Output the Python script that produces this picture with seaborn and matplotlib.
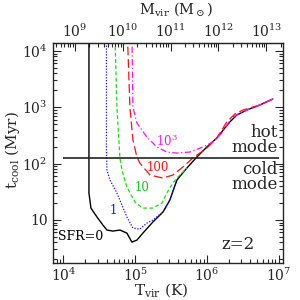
import numpy as np
import pandas as pd
import matplotlib
matplotlib.use("Agg")
import matplotlib.pyplot as plt
import seaborn as sns

# --- DATA (log10 values) ---
# cooling time vs virial temperature for several star formation rates (Msun/yr)
LOG_T_SFR0 = [4.355, 4.355, 4.383, 4.467, 4.550, 4.606, 4.689, 4.787, 4.884, 4.954,
              5.024, 5.107, 5.246, 5.386, 5.483, 5.581, 5.720, 5.859, 5.998, 6.137,
              6.249, 6.318, 6.416, 6.555, 6.737, 6.918]
LOG_TC_SFR0 = [4.30, 1.478, 1.211, 1.052, 0.909, 0.821, 0.803, 0.821, 0.767, 0.607,
               0.643, 0.767, 0.963, 1.140, 1.353, 1.709, 1.922, 2.117, 2.295, 2.455,
               2.632, 2.739, 2.863, 2.952, 3.041, 3.147]

LOG_T_SFR1 = [4.599, 4.599, 4.606, 4.648, 4.745, 4.884, 4.968, 5.065, 5.163, 5.246,
              5.386, 5.483, 5.581]
LOG_TC_SFR1 = [4.30, 2.242, 1.886, 1.709, 1.478, 1.052, 0.856, 0.838, 0.945, 0.998,
               1.140, 1.353, 1.709]

LOG_T_SFR10 = [4.717, 4.745, 4.787, 4.815, 4.884, 4.996, 5.107, 5.246, 5.372, 5.441,
               5.525, 5.595, 5.720]
LOG_TC_SFR10 = [4.30, 3.005, 2.099, 1.886, 1.584, 1.318, 1.211, 1.211, 1.300, 1.478,
                1.655, 1.762, 1.922]

LOG_T_SFR100 = [4.891, 4.926, 4.968, 5.024, 5.065, 5.205, 5.386, 5.525, 5.664, 5.803,
                5.998, 6.137, 6.276, 6.388, 6.500, 6.737, 6.918]
LOG_TC_SFR100 = [4.30, 3.005, 2.419, 2.117, 2.011, 1.798, 1.744, 1.798, 1.940, 2.099,
                 2.277, 2.455, 2.739, 2.881, 2.952, 3.041, 3.147]

LOG_T_SFR1000 = [4.954, 4.968, 5.024, 5.163, 5.302, 5.441, 5.581, 5.762, 5.943, 6.082,
                 6.207, 6.277, 6.360, 6.486, 6.597, 6.737, 6.918]
LOG_TC_SFR1000 = [4.30, 3.005, 2.721, 2.472, 2.295, 2.206, 2.188, 2.206, 2.295, 2.384,
                  2.543, 2.686, 2.828, 2.917, 2.970, 3.041, 3.147]

# hot / cold mode divide
DIVIDE_T = [1e4, 1e7]
DIVIDE_TCOOL = 125

# top axis: M_vir = 1e9 * (T / T9)^1.5 at z=2
LOG_T_AT_M9 = 4.16
M_TICKS = [1e9, 1e10, 1e11, 1e12, 1e13]

Y_TICKS = [10, 100, 1000, 10000]
Y_TICK_LABELS = ["10", "$10^2$", "$10^3$", "$10^4$"]

SERIES = [
    ("SFR=0", LOG_T_SFR0, LOG_TC_SFR0, "black", "-", 1.0),
    ("1", LOG_T_SFR1, LOG_TC_SFR1, "#1010ff", (0, (1, 1.3)), 0.9),
    ("10", LOG_T_SFR10, LOG_TC_SFR10, "#10e010", (0, (3, 2)), 0.9),
    ("100", LOG_T_SFR100, LOG_TC_SFR100, "#ff1010", (0, (7, 3)), 0.9),
    ("1000", LOG_T_SFR1000, LOG_TC_SFR1000, "#ff10ff", (0, (5, 2, 1, 2)), 0.9),
]


def t_to_m(t):
    t = np.asarray(t, dtype=float)
    return 1e9 * (np.clip(t, 1e-10, None) / 10**LOG_T_AT_M9) ** 1.5


def m_to_t(m):
    m = np.asarray(m, dtype=float)
    return 10**LOG_T_AT_M9 * (np.clip(m, 1e-10, None) / 1e9) ** (2.0 / 3.0)


def main():
    sns.set_style("ticks")
    plt.rcParams["font.family"] = ["DejaVu Serif"]
    plt.rcParams["mathtext.fontset"] = "dejavuserif"

    fig = plt.figure(figsize=(3, 3), dpi=100)
    ax = fig.add_axes([53 / 300, 37 / 300, 230 / 300, 220 / 300])

    for name, lt, ltc, color, ls, lw in SERIES:
        df = pd.DataFrame({"T": np.power(10.0, lt), "tcool": np.power(10.0, ltc)})
        sns.lineplot(data=df, x="T", y="tcool", ax=ax, color=color, linestyle=ls,
                     linewidth=lw, sort=False, estimator=None)

    ax.hlines(DIVIDE_TCOOL, DIVIDE_T[0], DIVIDE_T[1], color="#222222", linewidth=1.2)

    ax.set_xscale("log")
    ax.set_yscale("log")
    ax.set_xlim(10**3.854, 10**7.06)
    ax.set_ylim(10**0.236, 10**4.142)
    ax.set_yticks(Y_TICKS)
    ax.set_yticklabels(Y_TICK_LABELS)

    ax.tick_params(which="both", direction="in", top=False, right=True, labelsize=10,
                   width=0.8)
    ax.tick_params(which="major", length=6)
    ax.tick_params(which="minor", length=3)
    ax.tick_params(axis="x", pad=3)
    ax.tick_params(axis="y", pad=4)
    for sp in ax.spines.values():
        sp.set_linewidth(1.0)

    secax = ax.secondary_xaxis("top", functions=(t_to_m, m_to_t))
    secax.set_xticks(M_TICKS)
    secax.tick_params(which="both", direction="in", labelsize=10, width=0.8, pad=2.5)
    secax.tick_params(which="major", length=6)
    secax.tick_params(which="minor", length=3)

    ax.set_xlabel(r"T$_{\rm vir}$ (K)", fontsize=11, va="center")
    ax.xaxis.set_label_coords(0.47, -0.125)
    ax.set_ylabel(r"t$_{\rm cool}$ (Myr)", fontsize=11, va="center")
    ax.yaxis.set_label_coords(-0.178, 0.514)
    ax.text(0.535, 1.155, r"M$_{\rm vir}$ (M$_\odot$)", fontsize=10.5, ha="center",
            va="center", transform=ax.transAxes)

    # curve labels
    ax.text(10**4.69, 15, "1", color="#1010ff", fontsize=8.5, ha="center", va="center")
    ax.text(10**5.093, 38, "10", color="#10c010", fontsize=8.5, ha="center", va="center")
    ax.text(10**5.316, 84, "100", color="#ff1010", fontsize=8.5, ha="center", va="center")
    ax.text(10**5.441, 251, "$10^3$", color="#ff10ff", fontsize=8.5, ha="center", va="center")
    ax.text(10**3.92, 5.0, "SFR=0", color="black", fontsize=9, ha="left", va="center")

    ax.text(10**6.99, 263, "hot\nmode", fontsize=12, ha="right", va="center",
            multialignment="right", linespacing=0.9)
    ax.text(10**6.99, 58, "cold\nmode", fontsize=12, ha="right", va="center",
            multialignment="right", linespacing=0.9)
    ax.text(10**6.43, 3.6, "z=2", fontsize=12, ha="center", va="center")

    fig.savefig("out.png", dpi=100)


if __name__ == "__main__":
    main()
